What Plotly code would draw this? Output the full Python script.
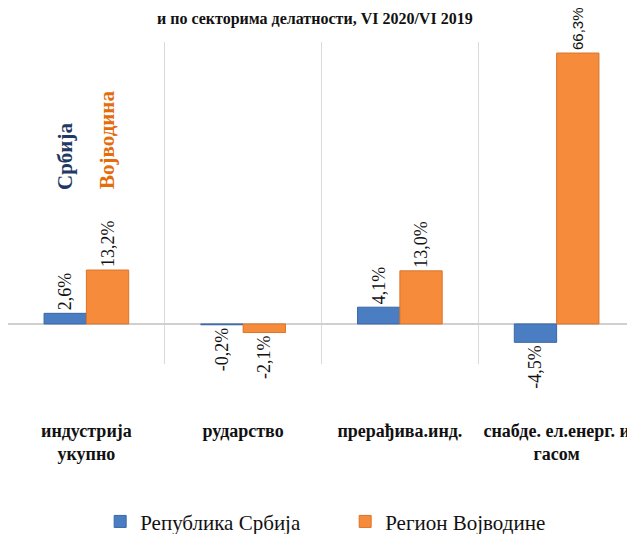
import plotly.graph_objects as go

categories = ["индустрија<br>укупно", "рударство", "прерађива.инд.", "снабде. ел.енерг. и<br>гасом"]
serbia = [2.6, -0.2, 4.1, -4.5]
vojvodina = [13.2, -2.1, 13.0, 66.3]

def fmt(v):
    return f"{v:.1f}".replace(".", ",") + "%"

serif = "Liberation Serif"
sans = "Liberation Sans"

fig = go.Figure()
fig.add_trace(go.Bar(
    x=categories, y=serbia, name="Република Србија",
    marker=dict(color="#4A7DC2", line=dict(color="#3B66A6", width=1)),
    text=[fmt(v) for v in serbia], textposition="outside", textangle=-90,
    constraintext="none",
    textfont=dict(family=serif, size=18, color="#111111"), cliponaxis=False,
))
fig.add_trace(go.Bar(
    x=categories, y=vojvodina, name="Регион Војводине",
    marker=dict(color="#F68B3C", line=dict(color="#D9742A", width=1)),
    text=[fmt(v) for v in vojvodina], textposition="outside", textangle=-90,
    constraintext="none",
    textfont=dict(family=[serif, serif, serif, sans], size=[18, 18, 18, 15], color="#111111"),
    cliponaxis=False,
))

# page body has an 8px margin, so the figure is sized to fit the 635x534 window
fig.update_layout(
    width=627, height=526,
    margin=dict(l=0, r=0, t=34, b=170, autoexpand=False),
    paper_bgcolor="white", plot_bgcolor="white",
    barmode="group", bargap=0.46, bargroupgap=0,
    showlegend=True,
    legend=dict(orientation="h", x=0.147, xanchor="left", y=-0.49, yanchor="middle",
                font=dict(family=serif, size=21, color="#111111"), entrywidth=200,
                itemwidth=30),
    xaxis=dict(type="category", showgrid=True, gridcolor="#D9D9D9", gridwidth=1,
               tickson="boundaries", ticks="", showline=False, automargin=False,
               tickfont=dict(family=serif, size=18, color="#111111", weight="bold"),
               ticklabelstandoff=54),
    yaxis=dict(range=[-9.8, 69], showgrid=False, showticklabels=False, ticks="",
               automargin=False,
               zeroline=True, zerolinecolor="#D0D0D0", zerolinewidth=1.5),
    annotations=[
        dict(text="<b>и по секторима делатности, VI 2020/VI 2019</b>", xref="paper", yref="paper",
             x=0.49, y=1.1056, xanchor="center", yanchor="top", showarrow=False,
             font=dict(family=serif, size=16, color="#111111")),
        dict(text="<b>Србија</b>", xref="paper", yref="paper", x=0.0909, y=0.646,
             xanchor="center", yanchor="middle",
             textangle=-90, showarrow=False,
             font=dict(family=serif, size=21, color="#1F3864")),
        dict(text="<b>Војводина</b>", xref="paper", yref="paper", x=0.158, y=0.696,
             xanchor="center", yanchor="middle",
             textangle=-90, showarrow=False,
             font=dict(family=serif, size=21, color="#E46C0A")),
    ],
)

fig.write_html("out.html")
